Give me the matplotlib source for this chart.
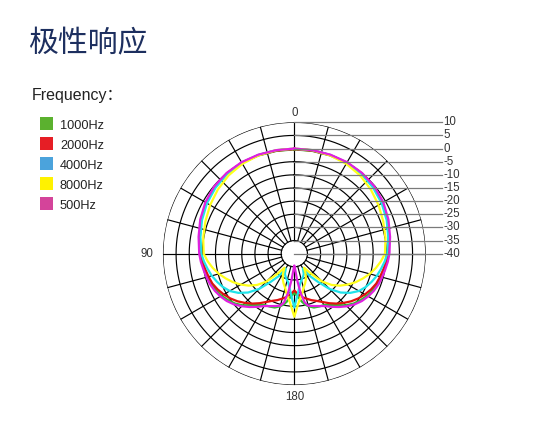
import numpy as np
import matplotlib.pyplot as plt
from matplotlib.patches import Rectangle

plt.rcParams['font.family'] = ['Liberation Sans', 'Noto Sans CJK SC']

# chart text
title = '极性响应'
freq_title = 'Frequency：'
freq_labels = ['1000Hz', '2000Hz', '4000Hz', '8000Hz', '500Hz']
legend_colors = ['#5bb12f', '#e61e25', '#4ba3dc', '#fff200', '#d4449a']
line_colors = ['#2fc02f', '#e01010', '#1fe3ea', '#ffff1a', '#e020e0']

# polar response (deg, dB), 0..180, mirrored for the other side
angles = [0, 10, 20, 30, 40, 50, 60, 70, 80, 90,
          95, 100, 105, 110, 115, 120, 125, 130, 135, 140, 145,
          150, 155, 160, 165, 168, 171, 174, 177, 180]
resp_1000 = [-0.3, -0.3, -0.2, -0.1, -0.2, -0.6, -1.3, -2.3, -3.5, -4.3,
             -4.8, -5.3, -5.8, -6.3, -7.1, -8.0, -9.2, -10.5, -12.2, -14.5, -16.2,
             -17.4, -17.8, -18.2, -19.3, -20.2, -21.5, -23.0, -24.2, -25.0]
resp_2000 = [-0.2, -0.2, -0.1, 0.0, -0.1, -0.5, -1.2, -2.2, -3.4, -4.3,
             -4.9, -5.6, -6.2, -6.8, -7.8, -9.0, -10.3, -11.8, -13.5, -15.2, -17.0,
             -18.8, -20.2, -21.2, -22.3, -22.9, -23.5, -24.3, -25.2, -26.0]
resp_4000 = [0.0, 0.0, 0.0, 0.0, -0.3, -0.9, -1.6, -2.6, -3.7, -4.6,
             -5.5, -6.5, -7.5, -8.7, -10.0, -11.6, -14.0, -17.0, -21.0, -26.0, -29.5,
             -33.5, -31.5, -30.5, -29.5, -28.8, -27.5, -25.5, -23.0, -19.5]
resp_8000 = [0.0, 0.0, -0.2, -0.5, -1.1, -2.0, -3.0, -4.0, -4.8, -5.5,
             -6.9, -8.5, -10.3, -12.3, -14.3, -16.5, -18.8, -21.5, -25.0, -30.0, -33.5,
             -31.5, -29.5, -28.0, -26.5, -25.0, -23.5, -22.0, -19.5, -16.0]
resp_500 = [0.0, 0.0, 0.1, 0.2, 0.1, -0.2, -0.9, -1.9, -3.0, -3.8,
            -4.3, -4.9, -5.4, -5.9, -6.6, -7.5, -8.6, -10.0, -11.7, -13.5, -15.3,
            -17.0, -18.0, -18.8, -19.5, -21.0, -25.0, -30.0, -34.0, -35.5]

db_ticks = [10, 5, 0, -5, -10, -15, -20, -25, -30, -35, -40]
spoke_angles = list(range(0, 360, 15))

fig = plt.figure(figsize=(5.4, 4.46), dpi=100)
rect = [0.3017, 0.1366, 0.4867, 0.5892]

ax = fig.add_axes(rect, projection='polar')
ax.set_theta_zero_location('N')
ax.set_theta_direction(1)
ax.set_ylim(-40, 10)
ax.axis('off')

# grid: rings and spokes
th = np.linspace(0, 2 * np.pi, 721)
for r in db_ticks[:-1]:
    ax.plot(th, np.full_like(th, r), color='black', lw=0.85)
for a in spoke_angles:
    ax.plot([np.radians(a)] * 2, [-35, 10], color='black', lw=0.85)

# response curves
full_ang = np.radians(angles + [360 - a for a in angles[::-1]])
for resp, c in zip([resp_1000, resp_2000, resp_4000, resp_8000, resp_500], line_colors):
    ax.plot(full_ang, resp + resp[::-1], color=c, lw=1.6)

# overlay for level lines and labels
ov = fig.add_axes(rect)
ov.set_xlim(-50, 50)
ov.set_ylim(-50, 50)
ov.axis('off')
for db in db_ticks:
    y = db + 40
    ov.plot([0, 56.1], [y, y], color='#7a7a7a', lw=0.9, clip_on=False)
    ov.text(56.8, y, str(db), va='center', ha='left', fontsize=8.3, color='#333333')
ov.text(0, 53.6, '0', ha='center', va='center', fontsize=8.3, color='#333333')
ov.text(-56.2, 0, '90', ha='center', va='center', fontsize=8.3, color='#333333')
ov.text(0, -54.4, '180', ha='center', va='center', fontsize=8.3, color='#333333')

# title and legend
fig.text(28 / 540, 1 - 44 / 446, title, fontsize=21.5, color='#1d2f5f',
         va='center', ha='left', family=['Noto Sans CJK SC'], weight='medium')
fig.text(32 / 540, 1 - 100 / 446, freq_title, fontsize=11.5, color='#222222',
         va='baseline', ha='left')
for i, (lab, c) in enumerate(zip(freq_labels, legend_colors)):
    top = 116.7 + 20 * i
    fig.add_artist(Rectangle((40 / 540, 1 - (top + 13) / 446), 13 / 540, 13 / 446,
                             transform=fig.transFigure, color=c, lw=0))
    fig.text(60 / 540, 1 - (top + 12.5) / 446, lab, fontsize=9.2, color='#222222',
             va='baseline', ha='left')

fig.savefig('out.png', dpi=100)
